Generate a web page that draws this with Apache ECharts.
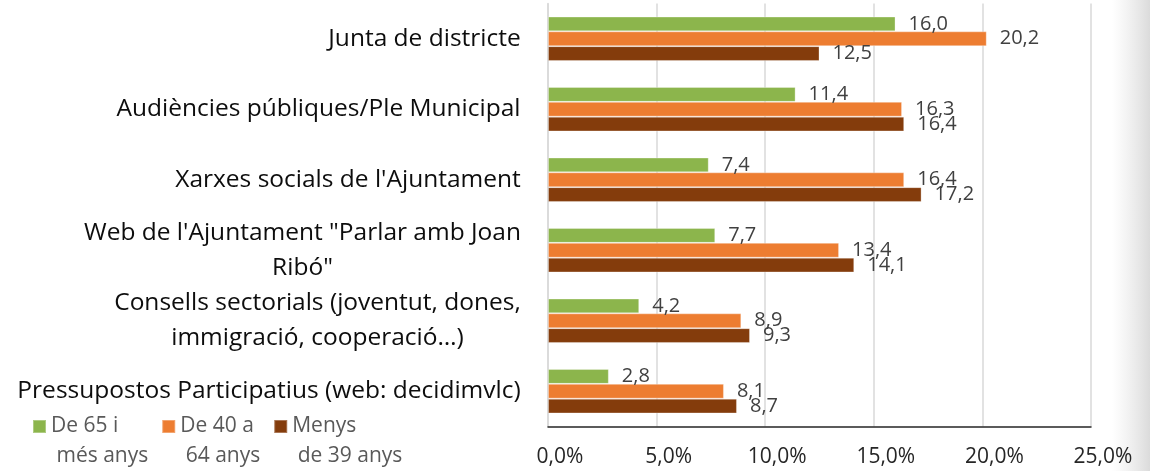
<!DOCTYPE html>
<html>
<head>
<meta charset="utf-8">
<script src="https://cdn.jsdelivr.net/npm/echarts@6/dist/echarts.min.js"></script>
<style>
  html, body { margin: 0; padding: 0; background: #ffffff; }
  #chart { width: 1150px; height: 471px; }
</style>
</head>
<body>
<div id="chart"></div>
<script>
// Channels of participation, share of respondents (%) by age group
const categories = [
  'Junta de districte',
  'Audiències públiques/Ple Municipal',
  "Xarxes socials de l'Ajuntament",
  'Web de l\'Ajuntament "Parlar amb Joan\nRibó"',
  'Consells sectorials (joventut, dones,\nimmigració, cooperació…)',
  'Pressupostos Participatius (web: decidimvlc)'
];
const seriesNames = ['De 65 i més anys', 'De 40 a 64 anys', 'Menys de 39 anys'];
const legendLines = [['De 65 i', ' més anys'], ['De 40 a', ' 64 anys'], ['Menys', ' de 39 anys']];
const age65plus = [16.0, 11.4, 7.4, 7.7, 4.2, 2.8];
const age40to64 = [20.2, 16.3, 16.4, 13.4, 8.9, 8.1];
const ageUnder39 = [12.5, 16.4, 17.2, 14.1, 9.3, 8.7];
const xTicks = [0, 5, 10, 15, 20, 25];

const colors = ['#8CB54C', '#ED7D31', '#843C0C'];
const FONT = '"Open Sans", "Noto Sans", sans-serif';
const catSize = 24.5;

// Multi-line category labels: block right-aligned, lines centred inside it
const ctx = document.createElement('canvas').getContext('2d');
ctx.font = catSize + 'px ' + FONT;
const rich = {};
categories.forEach((c, i) => {
  const w = Math.max(...c.split('\n').map(l => ctx.measureText(l).width));
  rich['c' + i] = {
    width: Math.ceil(w), align: 'center',
    fontSize: catSize, fontFamily: FONT, color: '#0d0d0d', lineHeight: 35
  };
});

const fmt = v => v.toFixed(1).replace('.', ',');

const chart = echarts.init(document.getElementById('chart'));
chart.setOption({
  animation: false,
  backgroundColor: '#ffffff',
  color: colors,
  grid: { left: 548, right: 59, top: 3.5, bottom: 44.5, containLabel: false },
  legend: {
    left: 32, top: 381.5, orient: 'horizontal', padding: 0,
    itemWidth: 13, itemHeight: 13, itemGap: 13, icon: 'rect',
    data: seriesNames,
    // an empty leading line keeps the marker level with the first text line
    formatter: name => ' \n' + legendLines[seriesNames.indexOf(name)].join('\n'),
    textStyle: { color: '#595959', fontSize: 21, fontFamily: FONT, lineHeight: 30 }
  },
  xAxis: {
    type: 'value', min: xTicks[0], max: xTicks[xTicks.length - 1], interval: 5,
    axisLine: { show: true, lineStyle: { color: '#262626', width: 1.5 } },
    axisTick: { show: false },
    splitLine: { show: true, lineStyle: { color: '#d9d9d9', width: 1.5 } },
    axisLabel: {
      color: '#262626', fontSize: 21, fontFamily: FONT, margin: 20,
      padding: [0, 0, 0, 24],
      formatter: v => fmt(v) + '%'
    }
  },
  yAxis: {
    type: 'category', inverse: true, data: categories,
    axisLine: { show: true, lineStyle: { color: '#d9d9d9', width: 1.5 } },
    axisTick: { show: false },
    axisLabel: {
      margin: 27, align: 'right',
      formatter: (value, idx) => value.split('\n').map(l => '{c' + idx + '|' + l + '}').join('\n'),
      rich: rich
    }
  },
  graphic: [{
    type: 'rect', silent: true, z: -1,
    shape: { x: 1112, y: 0, width: 38, height: 471 },
    style: {
      fill: new echarts.graphic.LinearGradient(0, 0, 1, 0, [
        { offset: 0, color: 'rgba(210,210,210,0)' },
        { offset: 1, color: 'rgba(195,195,195,0.6)' }
      ])
    }
  }],
  series: [age65plus, age40to64, ageUnder39].map((d, i) => ({
    name: seriesNames[i],
    type: 'bar',
    data: d,
    barGap: '0%',
    barCategoryGap: '37%',
    itemStyle: { color: colors[i], borderColor: 'rgba(255,255,255,0.3)', borderWidth: 1 },
    label: {
      show: true, position: 'right', distance: 13,
      color: '#404040', fontSize: 20, fontFamily: FONT,
      formatter: p => fmt(p.value)
    }
  }))
});
</script>
</body>
</html>
